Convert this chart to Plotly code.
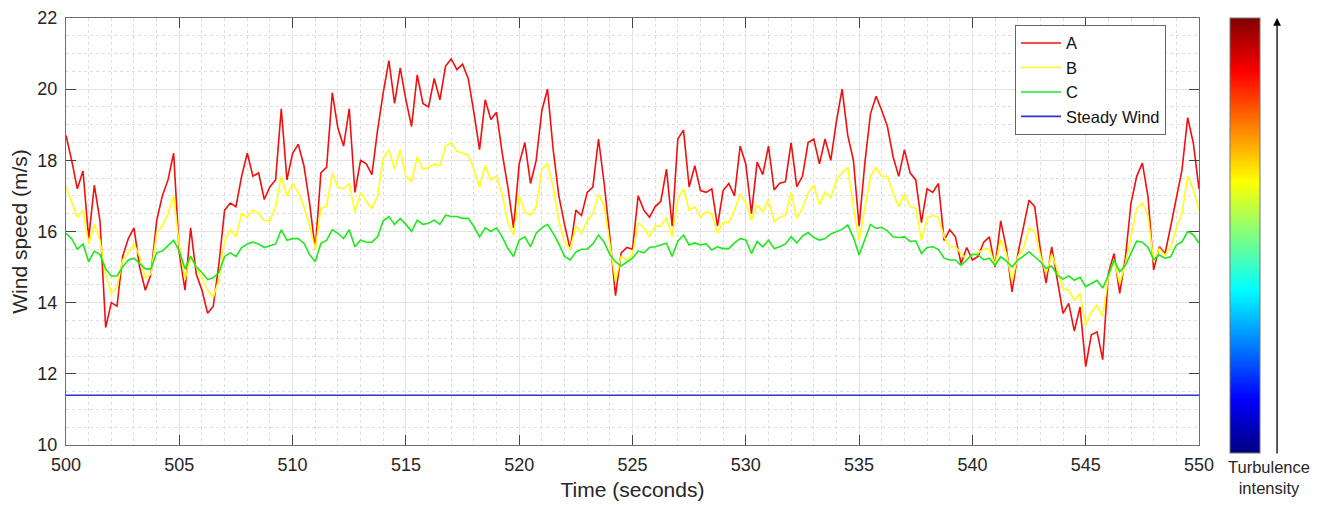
import plotly.graph_objects as go

# time axis: 500 s to 550 s, sampled every 0.25 s
t = [500 + 0.25 * i for i in range(201)]

wind_A = [
    18.7, 18.0, 17.2, 17.7, 15.8, 17.3, 16.3, 13.3, 14.0, 13.9, 15.3, 15.8, 16.1, 15.0, 14.35, 14.8,
    16.3, 17.0, 17.45, 18.2, 15.4, 14.35, 16.1, 14.8, 14.35, 13.7, 13.9, 15.1, 16.6, 16.8, 16.7, 17.55,
    18.2, 17.55, 17.65, 16.9, 17.26, 17.45, 19.45, 17.45, 18.2,
    18.45, 17.85, 16.8, 15.5, 17.65, 17.8, 19.9, 18.9, 18.4, 19.45, 17.1, 18.0, 17.9, 17.6, 18.85, 19.9,
    20.8, 19.6, 20.6, 19.7, 18.95, 20.4, 19.6, 19.5, 20.3, 19.7, 20.65, 20.85, 20.55, 20.7, 20.3, 19.35,
    18.3, 19.7, 19.15, 19.35, 18.2, 17.25, 16.1, 17.9,
    18.5, 17.35, 18.0, 19.4, 20.0, 18.3, 17.0, 16.2, 15.5, 16.6, 16.45, 17.1, 17.25, 18.6, 17.35, 15.85,
    14.2, 15.4, 15.55, 15.5, 17.0, 16.6, 16.4, 16.7, 16.85, 17.75, 16.15, 18.6, 18.85, 17.25, 17.85, 17.15,
    17.1, 17.2, 16.15, 17.15, 17.35, 17.0, 18.4, 17.9,
    16.5, 17.95, 17.6, 18.4, 17.17, 17.36, 17.4, 18.5, 17.26, 17.55, 18.5, 18.6, 17.9, 18.6, 18.0, 19.1,
    20.0, 18.7, 18.0, 16.15, 17.9, 19.3, 19.8, 19.4, 18.95, 18.1, 17.55, 18.3, 17.65, 17.45, 16.25, 17.2,
    17.1, 17.35, 15.75, 16.05, 15.85, 15.1, 15.55, 15.2,
    15.3, 15.7, 15.85, 15.0, 16.3, 15.52, 14.3, 15.35, 16.15, 16.88, 16.7, 15.48, 14.55, 15.57, 14.63, 13.7,
    13.98, 13.2, 13.88, 12.2, 13.1, 13.18, 12.4, 14.82, 15.38, 14.26, 15.25, 16.8, 17.55, 17.92, 16.98, 14.92,
    15.57, 15.38, 16.14, 16.98, 17.73, 19.2, 18.48, 17.2,
]

wind_B = [
    17.26, 16.8, 16.4, 16.6, 15.65, 16.2, 15.75, 14.8, 14.25, 14.45, 15.2, 15.4, 15.65, 15.3, 14.7, 14.8,
    15.95, 16.15, 16.5, 17.0, 15.6, 14.65, 15.3, 15.0, 14.7, 14.35, 14.15, 14.65, 15.75, 16.05, 15.85, 16.5,
    16.4, 16.6, 16.5, 16.3, 16.3, 16.7, 17.55, 17.0, 17.35,
    17.1, 16.7, 16.15, 15.5, 16.65, 16.7, 17.65, 17.25, 17.2, 17.35, 16.55, 17.1, 16.85, 16.65, 17.0, 18.05,
    18.3, 17.75, 18.3, 17.55, 17.4, 18.1, 17.75, 17.8, 17.9, 17.85, 18.4, 18.5, 18.25, 18.2, 18.15, 17.75,
    17.25, 17.85, 17.45, 17.55, 17.05, 16.25, 15.9, 17.0,
    16.55, 16.45, 16.7, 17.75, 17.9, 17.25, 16.3, 15.7, 15.5, 16.15, 15.95, 16.3, 16.5, 17.05, 16.7, 15.65,
    14.6, 15.3, 15.2, 15.35, 16.25, 16.1, 15.85, 16.15, 16.15, 16.4, 15.85, 16.9, 17.2, 16.6, 16.7, 16.4,
    16.55, 16.5, 15.95, 16.25, 16.25, 16.6, 17.05, 16.8,
    16.32, 16.75, 16.55, 16.9, 16.28, 16.4, 16.45, 17.1, 16.37, 16.65, 17.08, 17.3, 16.75, 17.1, 16.95, 17.45,
    17.65, 17.8, 16.65, 15.75, 16.6, 17.55, 17.8, 17.55, 17.55, 17.08, 16.7, 17.05, 16.7, 16.65, 15.75, 16.37,
    16.45, 16.4, 15.85, 15.57, 15.57, 15.38, 15.2, 15.35,
    15.4, 15.5, 15.52, 15.05, 15.76, 15.38, 14.6, 15.29, 15.52, 16.09, 16.0, 15.33, 14.82, 15.36, 14.92, 14.4,
    14.35, 14.07, 14.26, 13.35, 13.74, 13.93, 13.6, 14.73, 15.2, 14.54, 15.1, 15.85, 16.65, 16.8, 16.42, 15.15,
    15.52, 15.33, 15.57, 16.09, 16.51, 17.55, 17.17, 16.6,
]

wind_C = [
    15.95, 15.8, 15.5, 15.65, 15.15, 15.45, 15.35, 14.95, 14.75, 14.75, 15.0, 15.2, 15.25, 15.1, 14.95, 14.95,
    15.4, 15.45, 15.6, 15.75, 15.45, 14.95, 15.3, 15.0, 14.85, 14.65, 14.7, 14.85, 15.3, 15.4, 15.3, 15.55,
    15.65, 15.7, 15.65, 15.55, 15.6, 15.65, 16.05, 15.75, 15.8,
    15.8, 15.67, 15.35, 15.15, 15.67, 15.75, 16.05, 15.95, 15.8, 16.05, 15.57, 15.76, 15.7, 15.7, 15.85, 16.3,
    16.42, 16.2, 16.37, 16.2, 16.0, 16.32, 16.2, 16.23, 16.32, 16.2, 16.46, 16.42, 16.42, 16.37, 16.37, 16.14,
    15.85, 16.1, 16.0, 16.1, 15.85, 15.52, 15.3, 15.76,
    15.85, 15.57, 15.95, 16.1, 16.2, 15.95, 15.65, 15.3, 15.2, 15.42, 15.5, 15.5, 15.65, 15.9, 15.7, 15.35,
    15.15, 15.03, 15.15, 15.25, 15.45, 15.4, 15.55, 15.57, 15.62, 15.67, 15.3, 15.73, 15.9, 15.62, 15.68, 15.62,
    15.65, 15.48, 15.57, 15.52, 15.52, 15.68, 15.8, 15.76,
    15.38, 15.72, 15.57, 15.76, 15.52, 15.57, 15.65, 15.85, 15.68, 15.87, 15.97, 15.83, 15.76, 15.8, 15.93, 16.0,
    16.06, 16.18, 15.83, 15.34, 15.76, 16.2, 16.09, 16.12, 16.02, 15.85, 15.83, 15.85, 15.72, 15.74, 15.38, 15.55,
    15.57, 15.5, 15.25, 15.2, 15.2, 15.05, 15.2, 15.36,
    15.34, 15.2, 15.25, 15.05, 15.29, 15.17, 15.0, 15.2, 15.31, 15.43, 15.29, 15.15, 14.96, 15.03, 14.77, 14.66,
    14.75, 14.63, 14.71, 14.45, 14.54, 14.63, 14.41, 14.77, 15.2, 14.87, 15.05, 15.4, 15.73, 15.7, 15.55, 15.21,
    15.34, 15.25, 15.29, 15.62, 15.71, 16.0, 15.91, 15.67,
]

steady_wind = 11.4
steady_t = [500, 550]

series_names = ["A", "B", "C", "Steady Wind"]
series_colors = ["#f01010", "#ffff1a", "#1ee81e", "#3030d8"]

x_ticks = [500, 505, 510, 515, 520, 525, 530, 535, 540, 545, 550]
y_ticks = [10, 12, 14, 16, 18, 20, 22]

jet = [
    [0.0, "rgb(0,0,128)"], [0.125, "rgb(0,0,255)"], [0.375, "rgb(0,255,255)"],
    [0.625, "rgb(255,255,0)"], [0.875, "rgb(255,0,0)"], [1.0, "rgb(128,0,0)"],
]

FONT = "Arial, Liberation Sans, Helvetica, sans-serif"

fig = go.Figure()
for name, ys, col in zip(series_names[:3], [wind_A, wind_B, wind_C], series_colors[:3]):
    fig.add_trace(go.Scatter(x=t, y=ys, mode="lines", name=name,
                             line=dict(color=col, width=1.6)))
fig.add_trace(go.Scatter(x=steady_t, y=[steady_wind, steady_wind], mode="lines",
                         name=series_names[3], line=dict(color=series_colors[3], width=1.6)))

# colour bar (turbulence intensity scale)
fig.add_trace(go.Scatter(
    x=[None], y=[None], mode="markers", showlegend=False, hoverinfo="skip",
    marker=dict(color=[0.5], cmin=0, cmax=1, colorscale=jet, showscale=True,
                colorbar=dict(x=1.0275, xanchor="left", xref="paper",
                              y=0.4906, yanchor="middle", lenmode="pixels", len=435,
                              thicknessmode="pixels", thickness=30,
                              showticklabels=False, ticks="",
                              outlinecolor="#777777", outlinewidth=1, xpad=0, ypad=0)),
))

axis_common = dict(
    showline=True, linecolor="#6e6e6e", linewidth=1, mirror="ticks",
    ticks="inside", ticklen=10, tickcolor="#444444", tickwidth=1,
    showgrid=True, gridcolor="#e3e3e3", gridwidth=1,
    zeroline=False, automargin=False,
    tickfont=dict(family=FONT, size=18, color="#262626"),
)

fig.update_xaxes(
    range=[500, 550], tickvals=x_ticks, ticklabelstandoff=3,
    minor=dict(dtick=1, showgrid=True, gridcolor="#dedede", griddash="dot", ticks=""),
    title=dict(text="Time (seconds)", font=dict(family=FONT, size=21, color="#262626"), standoff=8),
    **axis_common,
)
fig.update_yaxes(
    range=[10, 22], tickvals=y_ticks, ticklabelstandoff=4,
    minor=dict(dtick=0.5, showgrid=True, gridcolor="#dedede", griddash="dot", ticks=""),
    title=dict(text="Wind speed (m/s)", font=dict(family=FONT, size=21, color="#262626"), standoff=6),
    **axis_common,
)

# the page body adds an 8 px offset; figure size/margins compensate for it
fig.update_layout(
    width=1322, height=497,
    margin=dict(l=58, r=131, t=10, b=60, autoexpand=False),
    paper_bgcolor="white", plot_bgcolor="white",
    font=dict(family=FONT, color="#262626"),
    showlegend=True,
    legend=dict(x=0.8376, y=0.984, xanchor="left", yanchor="top",
                bgcolor="white", bordercolor="#666666", borderwidth=1,
                font=dict(family=FONT, size=16.5, color="#111111"),
                itemwidth=40, tracegroupgap=0),
    annotations=[
        dict(x=1.0689, y=1.0, xref="paper", yref="paper", text="",
             showarrow=True, axref="pixel", ayref="pixel", ax=0, ay=437,
             arrowhead=2, arrowsize=1.2, arrowwidth=1.3, arrowcolor="black"),
        dict(x=1.062, y=-0.026, xref="paper", yref="paper",
             text="Turbulence<br>intensity", showarrow=False,
             xanchor="center", yanchor="top",
             font=dict(family=FONT, size=16.5, color="#262626")),
    ],
)

fig.write_html("out.html")
